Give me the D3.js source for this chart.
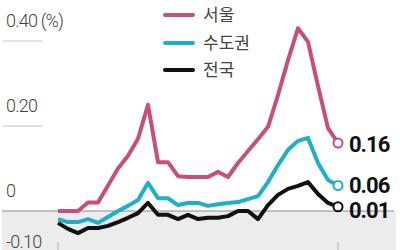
<!DOCTYPE html>
<html>
<head>
<meta charset="utf-8">
<script src="https://cdn.jsdelivr.net/npm/d3@7"></script>
<style>
  html, body { margin: 0; padding: 0; background: #fff; }
  svg { display: block; }
</style>
</head>
<body>
<div id="chart"></div>
<script>
const width = 400;
const height = 250;

// weekly change (%), 29 weeks
const seoul = [0.00, 0.00, 0.00, 0.02, 0.02, 0.06, 0.10, 0.13, 0.17, 0.25,
  0.115, 0.115, 0.082, 0.08, 0.08, 0.08, 0.092, 0.08, 0.113, 0.141, 0.169,
  0.198, 0.273, 0.355, 0.43, 0.398, 0.294, 0.195, 0.16];
const metro = [-0.019, -0.026, -0.026, -0.019, -0.028, -0.014, 0.0, 0.012, 0.026, 0.066,
  0.03, 0.03, 0.014, 0.019, 0.019, 0.012, 0.016, 0.019, 0.021, 0.028, 0.035,
  0.068, 0.108, 0.144, 0.165, 0.172, 0.113, 0.073, 0.06];
const nation = [-0.028, -0.042, -0.052, -0.04, -0.04, -0.035, -0.026, -0.016, -0.005, 0.019,
  -0.009, -0.009, -0.019, -0.009, -0.019, -0.016, -0.016, -0.012, 0.0, 0.0, -0.019,
  0.014, 0.038, 0.052, 0.059, 0.068, 0.04, 0.019, 0.01];

const seriesNames = ["서울", "수도권", "전국"];
const seriesColors = ["#c64f7c", "#1eb0c9", "#111111"];
const endLabels = ["0.16", "0.06", "0.01"];
const yTicks = [0.4, 0.2, 0, -0.1];
const yTickLabels = ["0.40 (%)", "0.20", "0", "-0.10"];

const svg = d3.select("#chart").append("svg")
    .attr("width", width)
    .attr("height", height)

const x = d3.scaleLinear().domain([0, seoul.length - 1]).range([58, 338]);
const y = d3.scaleLinear().domain([-0.1, 0.4]).range([253.5, 41]);

const numFont = "Roboto, 'Liberation Sans', sans-serif";

// gray band below zero
svg.append("rect")
    .attr("x", 2)
    .attr("y", y(0))
    .attr("width", 394)
    .attr("height", height - y(0))
    .attr("fill", "#ececec");

svg.append("line")
    .attr("x1", 2).attr("x2", 394)
    .attr("y1", y(0)).attr("y2", y(0))
    .attr("stroke", "#8a8a8a")
    .attr("stroke-width", 1.2);

// short grid stubs
svg.selectAll(".grid")
    .data([0.4, 0.2])
    .enter()
    .append("line")
    .attr("x1", 3).attr("x2", 43)
    .attr("y1", d => y(d)).attr("y2", d => y(d))
    .attr("stroke", "#c4c4c4")
    .attr("stroke-width", 1);

svg.selectAll(".ylab")
    .data(yTicks)
    .enter()
    .append("text")
    .attr("x", 6)
    .attr("y", d => d < 0 ? y(d) - 6 : y(d) - 14)
    .attr("font-family", numFont)
    .attr("font-size", 18)
    .attr("font-weight", 300)
    .attr("letter-spacing", -0.8)
    .attr("fill", "#444")
    .text((d, i) => yTickLabels[i]);

// bottom ticks
svg.selectAll(".xtick")
    .data([0, seoul.length - 1])
    .enter()
    .append("line")
    .attr("x1", d => x(d)).attr("x2", d => x(d))
    .attr("y1", 242).attr("y2", height)
    .attr("stroke", "#b5b5b5")
    .attr("stroke-width", 1);

const line = d3.line()
    .x((d, i) => x(i))
    .y(d => y(d));

const allSeries = [seoul, metro, nation];
const labelShift = [8.5, 7.5, 11];

// draw nation first so Seoul sits on top
[2, 1, 0].forEach(function(k){
    svg.append("path")
        .datum(allSeries[k])
        .attr("d", line)
        .attr("fill", "none")
        .attr("stroke", seriesColors[k])
        .attr("stroke-width", 4)
        .attr("stroke-linejoin", "round");
});

[0, 1, 2].forEach(function(k){
    const s = allSeries[k];
    const last = s.length - 1;
    svg.append("circle")
        .attr("cx", x(last))
        .attr("cy", y(s[last]))
        .attr("r", 4.5)
        .attr("fill", "#fff")
        .attr("stroke", seriesColors[k])
        .attr("stroke-width", 2);
    svg.append("text")
        .attr("x", 349)
        .attr("y", y(s[last]) + labelShift[k])
        .attr("font-family", numFont)
        .attr("font-weight", "bold")
        .attr("font-size", 22)
        .attr("letter-spacing", -1)
        .attr("fill", "#111")
        .text(endLabels[k]);
});

// legend
const legendY = [15, 43, 70];
svg.selectAll(".legline")
    .data(seriesNames)
    .enter()
    .append("line")
    .attr("x1", 165).attr("x2", 193)
    .attr("y1", (d, i) => legendY[i]).attr("y2", (d, i) => legendY[i])
    .attr("stroke", (d, i) => seriesColors[i])
    .attr("stroke-width", 4)
    .attr("stroke-linecap", "round");

svg.selectAll(".legtext")
    .data(seriesNames)
    .enter()
    .append("text")
    .attr("x", 203)
    .attr("y", (d, i) => legendY[i] + 6)
    .attr("font-family", "'Noto Sans CJK KR', sans-serif")
    .attr("font-size", 17)
    .attr("fill", "#444")
    .text(d => d);
</script>
</body>
</html>
